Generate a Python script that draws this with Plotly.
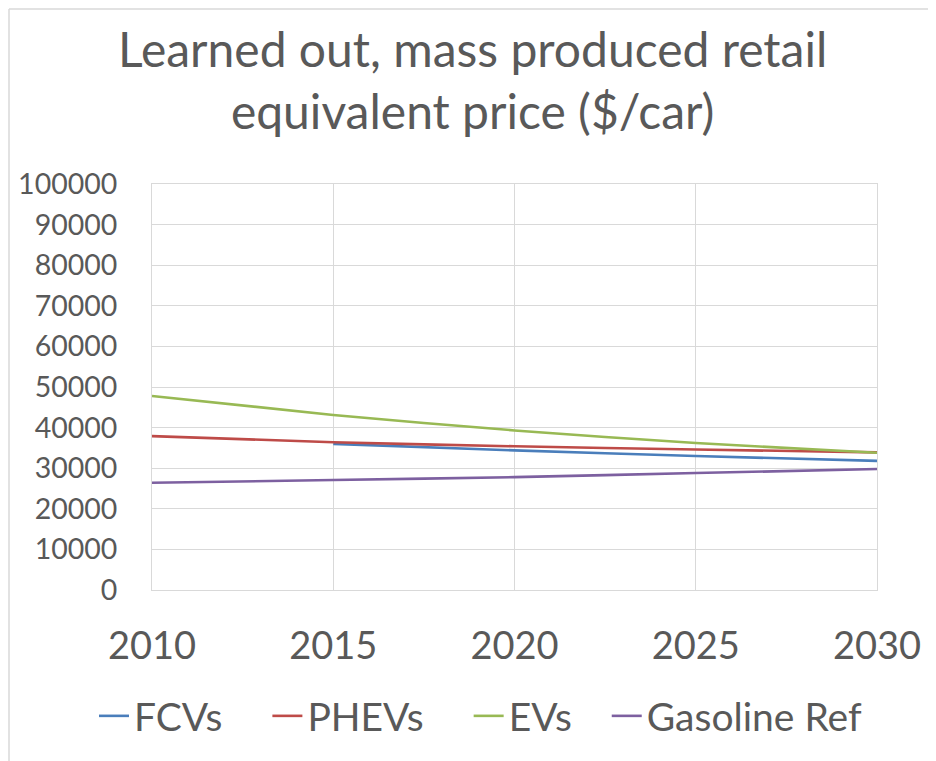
import plotly.graph_objects as go

years = [2010, 2015, 2020, 2025, 2030]
fcvs = [None, 36000, 34400, 33000, 31800]
phevs = [37900, 36400, 35400, 34600, 33900]
evs = [47800, 43100, 39300, 36200, 33800]
gasoline = [26400, 27100, 27800, 28800, 29800]

series_names = ["FCVs", "PHEVs", "EVs", "Gasoline Ref"]
series_values = [fcvs, phevs, evs, gasoline]
series_colors = ["#4A7EBB", "#BE4B48", "#98B954", "#7D60A0"]
legend_pad = [4, 4, 3, 0]  # extra non-breaking spaces for legend item spacing

y_ticks = list(range(0, 100001, 10000))
x_ticks = years

title_text = "Learned out, mass produced retail<br>equivalent price ($/car)"

FONT = "Lato, 'Open Sans', sans-serif"
TXT = "#595959"

fig = go.Figure()
for name, vals, col, pad in zip(series_names, series_values, series_colors, legend_pad):
    fig.add_trace(go.Scatter(x=years, y=vals, name=name + "\u00a0" * pad, mode="lines",
                             hovertemplate=name + ": %{y}<extra></extra>",
                             line=dict(color=col, width=2.6, shape="spline", smoothing=0.6)))

# page has ~8px body margin, so figure coords = page coords - 8
OFF = 8
W, H = 936 - OFF, 761 - OFF
L, R, T, B = 152 - OFF, 877 - OFF, 184 - OFF, 590 - OFF
pw, ph = R - L, B - T

def px2paper_x(px):
    return (px - OFF - L) / pw

def px2paper_y(py):
    return (B - (py - OFF)) / ph

fig.update_layout(
    width=W, height=H,
    margin=dict(l=L, r=W - R, t=T, b=H - B, autoexpand=False),
    paper_bgcolor="white", plot_bgcolor="white",
    font=dict(family=FONT, color=TXT),
    xaxis=dict(range=[2010, 2030], tickvals=x_ticks, ticktext=[str(v) for v in x_ticks],
               showgrid=True, gridcolor="#D9D9D9", gridwidth=1,
               showline=True, linecolor="#D9D9D9", mirror=True, zeroline=False,
               ticks="", tickfont=dict(size=38, family=FONT, color=TXT), ticklabelstandoff=22),
    yaxis=dict(range=[0, 100000], tickvals=y_ticks, ticktext=[str(v) for v in y_ticks],
               showgrid=True, gridcolor="#D9D9D9", gridwidth=1,
               showline=True, linecolor="#D9D9D9", mirror=True, zeroline=False,
               ticks="", tickfont=dict(size=28.5, family=FONT, color=TXT), ticklabelstandoff=28),
    legend=dict(orientation="h", x=px2paper_x(94), xref="paper", xanchor="left",
                y=px2paper_y(716), yref="paper", yanchor="middle",
                font=dict(size=39, family=FONT, color=TXT), itemwidth=30,
                traceorder="normal"),
    annotations=[
        dict(text=title_text, xref="paper", yref="paper",
             x=px2paper_x(472), y=px2paper_y(79), xanchor="center", yanchor="middle",
             showarrow=False, align="center",
             font=dict(size=48, family=FONT, color=TXT)),
    ],
    shapes=[
        dict(type="line", xref="paper", yref="paper",
             x0=px2paper_x(9), x1=px2paper_x(9), y0=px2paper_y(9), y1=px2paper_y(800),
             line=dict(color="#D9D9D9", width=1.5)),
        dict(type="line", xref="paper", yref="paper",
             x0=px2paper_x(9), x1=px2paper_x(1000), y0=px2paper_y(9), y1=px2paper_y(9),
             line=dict(color="#D9D9D9", width=1.5)),
    ],
)

fig.write_html("out.html")
